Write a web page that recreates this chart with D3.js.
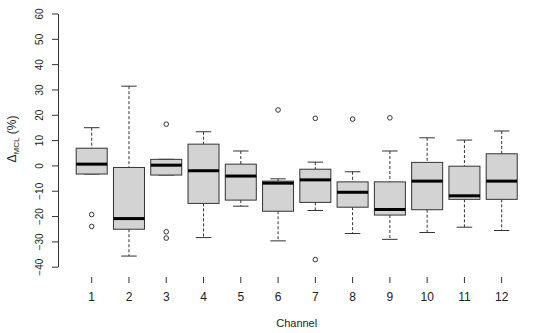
<!DOCTYPE html>
<html>
<head>
<meta charset="utf-8">
<script src="https://cdn.jsdelivr.net/npm/d3@7"></script>
<style>
  body { margin: 0; background: #fff; }
  text { font-family: "Liberation Sans", Arial, sans-serif; fill: #222; }
</style>
</head>
<body>
<svg id="chart" width="550" height="333"></svg>
<script>
// boxplot stats
var channels = ['1', '2', '3', '4', '5', '6', '7', '8', '9', '10', '11', '12'];
var whiskerLow  = [-3.4, -35.8, -3.8, -28.5, -16.1, -29.8, -17.8, -26.9, -29.2, -26.5, -24.4, -25.7];
var q1          = [-3.4, -25.2, -3.8, -15.0, -13.7, -18.1, -14.6, -16.5, -19.6, -17.5, -13.4, -13.4];
var median      = [0.5, -21.0, 0.1, -2.1, -4.2, -7.0, -5.7, -10.6, -17.4, -6.2, -12.0, -6.2];
var q3          = [6.8, -0.8, 2.4, 8.4, 0.5, -6.2, -1.5, -6.5, -6.5, 1.2, -0.3, 4.6];
var whiskerHigh = [14.9, 31.3, 2.4, 13.3, 5.7, -5.3, 1.3, -2.5, 5.7, 10.9, 10.0, 13.6];
var outliers    = [[-19.4, -24.1], [], [16.3, -26.2, -28.7], [], [], [21.9], [18.6, -37.2], [18.3], [18.8], [], [], []];
var yTicks = [-40, -30, -20, -10, 0, 10, 20, 30, 40, 50, 60];

var svg = d3.select('#chart');

var x = d3.scalePoint().domain(channels).range([91.7, 501.7]);
var y = d3.scaleLinear().domain([-40, 60]).range([266.7, 13.5]);
var boxW = 31;

// y axis
var yAxis = svg.append('g')
	.attr('transform', 'translate(58,0)')
	.call(d3.axisLeft(y).tickValues(yTicks).tickSize(6).tickSizeOuter(0));
yAxis.select('.domain').attr('stroke', '#333');
yAxis.selectAll('.tick line').attr('stroke', '#333');
yAxis.selectAll('.tick text')
	.attr('transform', 'rotate(-90)')
	.attr('x', 0)
	.attr('y', -15)
	.attr('dy', null)
	.attr('text-anchor', 'middle')
	.style('font-family', '"Liberation Sans", Arial, sans-serif')
	.style('font-size', '10px')
	.attr('fill', '#444');

// x ticks, no axis line
svg.selectAll('.xtick')
	.data(channels)
	.enter()
	.append('line')
	.attr('x1', function(d) { return x(d); })
	.attr('x2', function(d) { return x(d); })
	.attr('y1', 277)
	.attr('y2', 283)
	.attr('stroke', '#333');

svg.selectAll('.xlabel')
	.data(channels)
	.enter()
	.append('text')
	.attr('x', function(d) { return x(d); })
	.attr('y', 301)
	.attr('text-anchor', 'middle')
	.style('font-size', '12px')
	.text(function(d) { return d; });

svg.append('text')
	.attr('x', x('6') + (x('7') - x('6')) / 2)
	.attr('y', 327)
	.attr('text-anchor', 'middle')
	.style('font-size', '11px')
	.text('Channel');

var ytitle = svg.append('text')
	.attr('transform', 'translate(16,139) rotate(-90)')
	.attr('text-anchor', 'middle')
	.style('font-size', '12px');
ytitle.append('tspan').text('Δ');
ytitle.append('tspan').attr('dy', 3).style('font-size', '8px').text('MCL');
ytitle.append('tspan').attr('dy', -3).text(' (%)');

// boxes
var g = svg.selectAll('.box')
	.data(channels)
	.enter()
	.append('g');

g.append('line')
	.attr('x1', function(d) { return x(d); })
	.attr('x2', function(d) { return x(d); })
	.attr('y1', function(d, i) { return y(whiskerHigh[i]); })
	.attr('y2', function(d, i) { return y(q3[i]); })
	.attr('stroke', '#333')
	.attr('stroke-dasharray', '3,2');

g.append('line')
	.attr('x1', function(d) { return x(d); })
	.attr('x2', function(d) { return x(d); })
	.attr('y1', function(d, i) { return y(q1[i]); })
	.attr('y2', function(d, i) { return y(whiskerLow[i]); })
	.attr('stroke', '#333')
	.attr('stroke-dasharray', '3,2');

g.append('line')
	.attr('x1', function(d) { return x(d) - boxW / 4; })
	.attr('x2', function(d) { return x(d) + boxW / 4; })
	.attr('y1', function(d, i) { return y(whiskerHigh[i]); })
	.attr('y2', function(d, i) { return y(whiskerHigh[i]); })
	.attr('stroke', '#333');

g.append('line')
	.attr('x1', function(d) { return x(d) - boxW / 4; })
	.attr('x2', function(d) { return x(d) + boxW / 4; })
	.attr('y1', function(d, i) { return y(whiskerLow[i]); })
	.attr('y2', function(d, i) { return y(whiskerLow[i]); })
	.attr('stroke', '#333');

g.append('rect')
	.attr('x', function(d) { return x(d) - boxW / 2; })
	.attr('width', boxW)
	.attr('y', function(d, i) { return y(q3[i]); })
	.attr('height', function(d, i) { return y(q1[i]) - y(q3[i]); })
	.attr('fill', '#d3d3d3')
	.attr('stroke', '#333');

g.append('line')
	.attr('x1', function(d) { return x(d) - boxW / 2; })
	.attr('x2', function(d) { return x(d) + boxW / 2; })
	.attr('y1', function(d, i) { return y(median[i]); })
	.attr('y2', function(d, i) { return y(median[i]); })
	.attr('stroke', '#000')
	.attr('stroke-width', 3);

g.selectAll('circle')
	.data(function(d, i) { return outliers[i].map(function(v) { return {c: d, v: v}; }); })
	.enter()
	.append('circle')
	.attr('cx', function(d) { return x(d.c); })
	.attr('cy', function(d) { return y(d.v); })
	.attr('r', 2.3)
	.attr('fill', 'none')
	.attr('stroke', '#333');
</script>
</body>
</html>
